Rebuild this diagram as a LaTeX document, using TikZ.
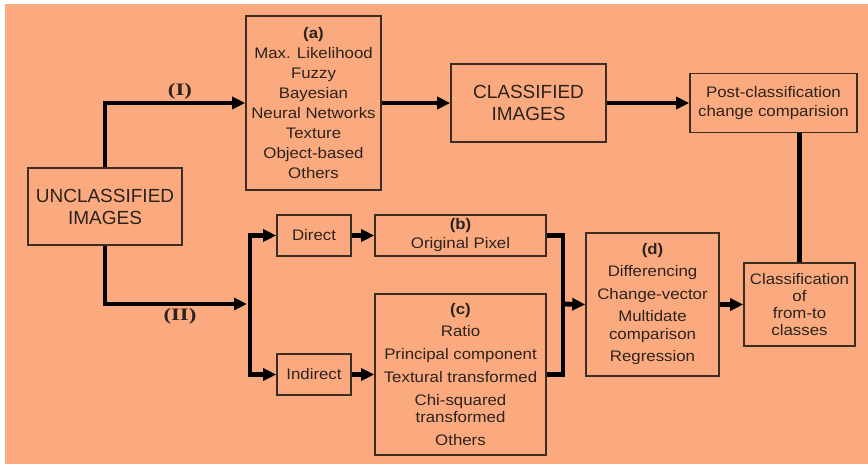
\documentclass[tikz,border=0pt]{standalone}
\usepackage{fontspec}
\setmainfont{Liberation Sans}[FakeStretch=1.1]
\newfontfamily\bigfont{Liberation Sans}
\newfontfamily\romfont{Liberation Serif}[FakeStretch=1.3]
\usetikzlibrary{arrows.meta}
\definecolor{bgc}{RGB}{250,170,126}
\definecolor{boxc}{RGB}{60,45,35}
\definecolor{textc}{RGB}{45,35,30}
\tikzset{
  box/.style={draw=boxc, line width=1.6pt, inner sep=0pt, align=center, text=textc,
              font=\fontsize{15.3}{20}\selectfont},
  bigbox/.style={box, font=\bigfont\fontsize{19}{22}\selectfont},
  conn/.style={draw=black, line width=4.8pt, line join=miter},
  arr/.style={conn, -{Triangle[length=13pt,width=12pt]}},
  roman/.style={text=textc, font=\romfont\bfseries\fontsize{17.5}{20}\selectfont, inner sep=0pt}
}
\begin{document}
\begin{tikzpicture}[x=1pt,y=-1pt]
\useasboundingbox (0,0) rectangle (868,464);
\fill[white] (0,0) rectangle (868,464);
\fill[bgc] (5,4) rectangle (868,464);

% nodes
\node[bigbox, minimum width=154pt, minimum height=77pt] (U) at (105,206.5) {UNCLASSIFIED\\IMAGES};
\node[box, minimum width=135pt, minimum height=174pt] (a) at (313.5,103)
  {\textbf{(a)}\\Max. Likelihood\\Fuzzy\\Bayesian\\Neural Networks\\Texture\\Object-based\\Others};
\node[bigbox, minimum width=155pt, minimum height=78pt] (C) at (528.5,103) {CLASSIFIED\\IMAGES};
\node[box, minimum width=167pt, minimum height=59pt, font=\fontsize{15.3}{19}\selectfont] (P) at (773.5,103)
  {Post-classification\\change comparision};
\node[box, minimum width=74pt, minimum height=41pt] (D) at (314,235.5) {Direct};
\node[box, minimum width=74pt, minimum height=41pt] (I) at (314,374.5) {Indirect};
\node[box, minimum width=171pt, minimum height=41pt, font=\fontsize{15.3}{19}\selectfont] (b) at (460.5,235.5)
  {\textbf{(b)}\\Original Pixel};
\node[box, minimum width=171pt, minimum height=161pt, font=\fontsize{15.3}{17}\selectfont] (c) at (460.5,374.5)
  {\textbf{(c)}\\[5pt]Ratio\\[6pt]Principal component\\[6pt]Textural transformed\\[6pt]Chi-squared\\transformed\\[6pt]Others};
\node[box, minimum width=133pt, minimum height=143pt, font=\fontsize{15.3}{18}\selectfont] (d) at (652.5,304.5)
  {\textbf{(d)}\\[4pt]Differencing\\[5pt]Change-vector\\[4pt]Multidate\\comparison\\[4pt]Regression};
\node[box, minimum width=111pt, minimum height=83pt, font=\fontsize{15.3}{17.3}\selectfont] (Cl) at (799.5,304.5)
  {Classification\\of\\from-to\\classes};

\node[roman] (l1) at (180,91.5) {(I)};
\node[roman] (l2) at (180,316.5) {(II)};

\coordinate (brin) at (247,304);
\coordinate (br) at (250,304);
\coordinate (mg) at (563,304);

% connectors
\draw[arr] (U.north) |- (a.west);
\draw[arr] (U.south) |- (brin);
\draw[arr] (br) |- (D.west);
\draw[arr] (br) |- (I.west);
\draw[arr] (D.east) -- (b.west);
\draw[arr] (I.east) -- (c.west);
\draw[arr] (a.east) -- (C.west);
\draw[arr] (C.east) -- (P.west);
\draw[conn] (b.east) -| (mg) |- (c.east);
\draw[arr] (mg) -- (d.west);
\draw[arr] (d.east) -- (Cl.west);
\draw[conn] (P.south -| Cl.north) -- (Cl.north);
\end{tikzpicture}
\end{document}
